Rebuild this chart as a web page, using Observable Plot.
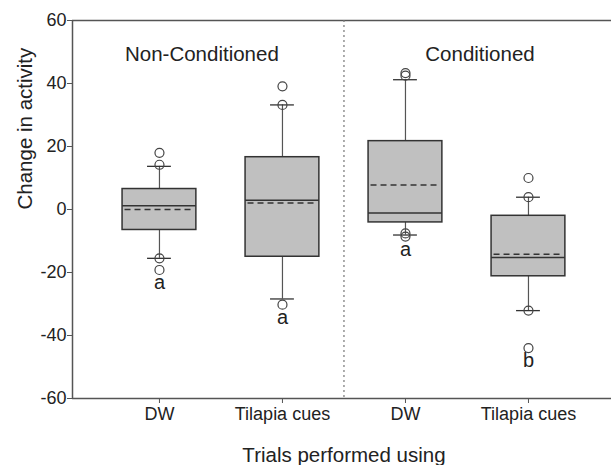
<!DOCTYPE html>
<html>
<head>
<meta charset="utf-8">
<script src="https://cdn.jsdelivr.net/npm/d3@7"></script>
<script src="https://cdn.jsdelivr.net/npm/@observablehq/plot@0.6"></script>
<style>
  html, body { margin: 0; padding: 0; background: white; }
</style>
</head>
<body>
<div id="chart"></div>
<script>
// ---- data ----
const groups = ["Non-Conditioned", "Conditioned"];
const treatments = ["DW", "Tilapia cues", "DW", "Tilapia cues"];
const q1 = [-6.5, -15.0, -4.1, -21.2];
const q3 = [6.5, 16.6, 21.7, -2.0];
const medians = [1.2, 2.9, -1.1, -15.2];
const means = [0.0, 2.1, 7.8, -14.2];
const whiskerLow = [-15.5, -28.4, -8.1, -32.1];
const whiskerHigh = [13.7, 33.2, 41.2, 3.9];
const outliers = [
  [18.0, 14.2, -15.5, -19.2],
  [39.1, 33.2, -30.2],
  [43.3, 42.5, -7.6, -8.6],
  [10.0, 3.9, -32.1, -44.0]
];
const letters = ["a", "a", "a", "b"];
const yTicks = [-60, -40, -20, 0, 20, 40, 60];

// ---- build tables ----
const boxes = treatments.map((t, i) => ({
  pos: i + 1, treatment: t,
  q1: q1[i], q3: q3[i], median: medians[i], mean: means[i],
  lo: whiskerLow[i], hi: whiskerHigh[i],
  letter: letters[i], minPoint: Math.min(...outliers[i])
}));
const points = outliers.flatMap((vals, i) => vals.map(v => ({pos: i + 1, value: v})));
const halfBox = 0.3, halfCap = 0.097;
const groupLabels = groups.map((g, i) => ({name: g, x: i === 0 ? 1.345 : 3.606}));

const ink = "#222";
const axisGray = "#555";

const chart = Plot.plot({
  width: 611,
  height: 465,
  marginLeft: 72,
  marginRight: 0,
  marginTop: 20,
  marginBottom: 67,
  style: {fontFamily: "'Liberation Sans', Arial, sans-serif", background: "white", color: ink},
  x: {type: "linear", domain: [0.293, 4.675], axis: null},
  y: {domain: [-60, 60], axis: null},
  marks: [
    // frame lines
    Plot.ruleY([60], {stroke: axisGray, strokeWidth: 1.5}),
    Plot.ruleY([-60], {stroke: axisGray, strokeWidth: 1.5}),
    Plot.ruleX([0.293], {stroke: axisGray, strokeWidth: 1.5}),
    // divider
    Plot.ruleX([2.5], {stroke: "#777", strokeWidth: 1.2, strokeDasharray: "2,3"}),
    // axes
    Plot.axisY(yTicks, {
      tickSize: 5, tickPadding: 1, fontSize: 18, stroke: axisGray, fill: ink,
      tickFormat: d => `${d}`, label: null
    }),
    Plot.axisX([1, 2, 3, 4], {
      tickSize: 5, tickPadding: 4, fontSize: 18, stroke: axisGray, fill: ink,
      tickFormat: d => treatments[d - 1], label: null
    }),
    // whiskers
    Plot.ruleX(boxes, {x: "pos", y1: "q3", y2: "hi", stroke: axisGray, strokeWidth: 1.2}),
    Plot.ruleX(boxes, {x: "pos", y1: "q1", y2: "lo", stroke: axisGray, strokeWidth: 1.2}),
    Plot.ruleY(boxes, {y: "hi", x1: d => d.pos - halfCap, x2: d => d.pos + halfCap, stroke: "#333", strokeWidth: 1.3}),
    Plot.ruleY(boxes, {y: "lo", x1: d => d.pos - halfCap, x2: d => d.pos + halfCap, stroke: "#333", strokeWidth: 1.3}),
    // boxes
    Plot.rect(boxes, {
      x1: d => d.pos - halfBox, x2: d => d.pos + halfBox, y1: "q1", y2: "q3",
      fill: "#c0c0c0", stroke: "#333", strokeWidth: 1.5
    }),
    Plot.ruleY(boxes, {y: "median", x1: d => d.pos - halfBox, x2: d => d.pos + halfBox, stroke: "#333", strokeWidth: 1.5}),
    Plot.ruleY(boxes, {y: "mean", x1: d => d.pos - halfBox + 0.02, x2: d => d.pos + halfBox - 0.02, stroke: "#333", strokeWidth: 1.5, strokeDasharray: "6,4"}),
    // outliers
    Plot.dot(points, {x: "pos", y: "value", r: 4.5, stroke: "#444", strokeWidth: 1.2, fill: "none"}),
    // significance letters
    Plot.text(boxes, {x: "pos", y: "minPoint", text: "letter", dy: 19, lineAnchor: "bottom", fontSize: 20, fill: ink}),
    // group labels
    Plot.text(groupLabels, {x: "x", frameAnchor: "top", dy: 40.7, text: "name", lineAnchor: "bottom", fontSize: 20.5, fill: ink}),
    // axis titles
    Plot.text(["Trials performed using"], {x: 2.5, frameAnchor: "bottom", dy: 63, lineAnchor: "bottom", fontSize: 20.5, fill: ink}),
    Plot.text(["Change in activity"], {frameAnchor: "left", dx: -41, rotate: -90, lineAnchor: "bottom", fontSize: 20.5, fill: ink})
  ]
});
document.getElementById("chart").appendChild(chart);
</script>
</body>
</html>
